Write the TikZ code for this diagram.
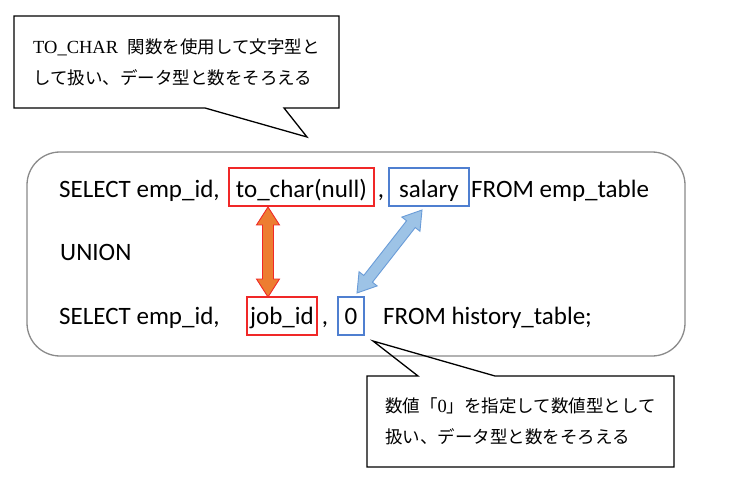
\documentclass[tikz,border=0pt]{standalone}
\usepackage{fontspec}
\newfontfamily\sqlfont{Carlito}
\newfontfamily\cjk{Noto Sans CJK JP}
\newfontfamily\latinserif{Liberation Serif}
\usetikzlibrary{calc}
\definecolor{boxred}{HTML}{F02828}
\definecolor{boxblue}{HTML}{4F7FD0}
\definecolor{arrorange}{HTML}{ED7D31}
\definecolor{arrblue}{HTML}{9DC3E6}
\definecolor{arrblueline}{HTML}{6A9CD8}
\definecolor{framegray}{HTML}{8A8A8A}
\newcommand\dblarrow[3]{%
  \path ($(#1)!18pt!(#2)$) coordinate (#1-h) ($(#2)!18pt!(#1)$) coordinate (#2-h);
  \draw[#3] (#1) -- ($(#1-h)!11.5pt!90:(#2)$) -- ($(#1-h)!5.5pt!90:(#2)$)
    -- ($(#2-h)!5.5pt!-90:(#1)$) -- ($(#2-h)!11.5pt!-90:(#1)$) -- (#2)
    -- ($(#2-h)!11.5pt!90:(#1)$) -- ($(#2-h)!5.5pt!90:(#1)$)
    -- ($(#1-h)!5.5pt!-90:(#2)$) -- ($(#1-h)!11.5pt!-90:(#2)$) -- cycle;
}
\newcommand\latin[1]{{\latinserif\fontsize{18.5}{31}\selectfont #1}}
\tikzset{
  sql/.style={font=\sqlfont\fontsize{25}{30}\selectfont, inner sep=0pt, anchor=base west},
  sqlc/.style={font=\sqlfont\fontsize{25}{30}\selectfont, inner sep=0pt, anchor=base},
  sqlboxa/.style={font=\sqlfont\fontsize{25}{30}\selectfont, inner sep=0pt, anchor=base,
    text height=29pt, text depth=9pt, line width=1.3pt},
  sqlboxb/.style={font=\sqlfont\fontsize{25}{30}\selectfont, inner sep=0pt, anchor=base,
    text height=27pt, text depth=11pt, line width=1.3pt},
  note/.style={font=\fontsize{17.5}{31}\selectfont, align=left, inner sep=0pt, outer sep=0pt},
  noteline/.style={draw=black, line width=1.3pt, line join=miter},
  orangearrow/.style={fill=arrorange, draw=boxred, line width=0.9pt},
  bluearrow/.style={fill=arrblue, draw=arrblueline, line width=0.9pt},
}
\begin{document}
\begin{tikzpicture}[x=1pt,y=-1pt]
\useasboundingbox (0,0) rectangle (736,489);
\fill[white] (0,0) rectangle (736,489);
% main frame
\node[draw=framegray, line width=1.3pt, rounded corners=33pt, minimum width=658pt,
  minimum height=204pt, inner sep=0pt] (frame) at (356,254) {};
% SQL lines
\node[sql] (s1) at (59,197) {SELECT emp\_id,};
\node[sqlboxa, draw=boxred, minimum width=145pt] (tochar) at (301.5,197) {to\_char(null)};
\node[sqlc] (c1) at (381,197) {,};
\node[sqlboxa, draw=boxblue, minimum width=80pt] (salary) at (429,197) {salary};
\node[sql] (f1) at (471,197) {FROM emp\_table};
\node[sql] (u) at (60,260) {UNION};
\node[sql] (s3) at (59,324) {SELECT emp\_id,};
\node[sqlboxb, draw=boxred, minimum width=70pt] (jobid) at (282,324) {job\_id};
\node[sqlc] (c3) at (325,324) {,};
\node[sqlboxb, draw=boxblue, minimum width=26pt] (zero) at (351,324) {0};
\node[sql] (f3) at (383,324) {FROM history\_table;};
% arrows
\coordinate (oT) at (268,207);
\coordinate (oB) at (268,297);
\dblarrow{oT}{oB}{orangearrow}
\coordinate (bT) at (422,210);
\coordinate (bB) at (357,293);
\dblarrow{bT}{bB}{bluearrow}
% top callout
\node[note, minimum width=325pt, minimum height=92pt] (note1) at (176.5,62)
  {\latin{TO\_CHAR}\hspace{0.55em}{\cjk 関数を使用して文字型と}\\{\cjk して扱い、データ型と数をそろえる}};
\coordinate (tip1) at (307,137);
\draw[noteline] (note1.north west) -- (note1.north east) -- (note1.south east)
  -- ($(note1.south west)+(270,0)$) -- (tip1) -- ($(note1.south west)+(191,0)$)
  -- (note1.south west) -- cycle;
% bottom callout
\node[note, minimum width=307pt, minimum height=91pt] (note2) at (520.5,421.5)
  {{\cjk 数値「}\latin{0}{\cjk 」を指定して数値型として}\\{\cjk 扱い、データ型と数をそろえる}};
\coordinate (tip2) at (373,341);
\draw[noteline] (note2.north west) -- ($(note2.north west)+(51,0)$) -- (tip2)
  -- ($(note2.north west)+(128,0)$) -- (note2.north east) -- (note2.south east)
  -- (note2.south west) -- cycle;
\end{tikzpicture}
\end{document}
